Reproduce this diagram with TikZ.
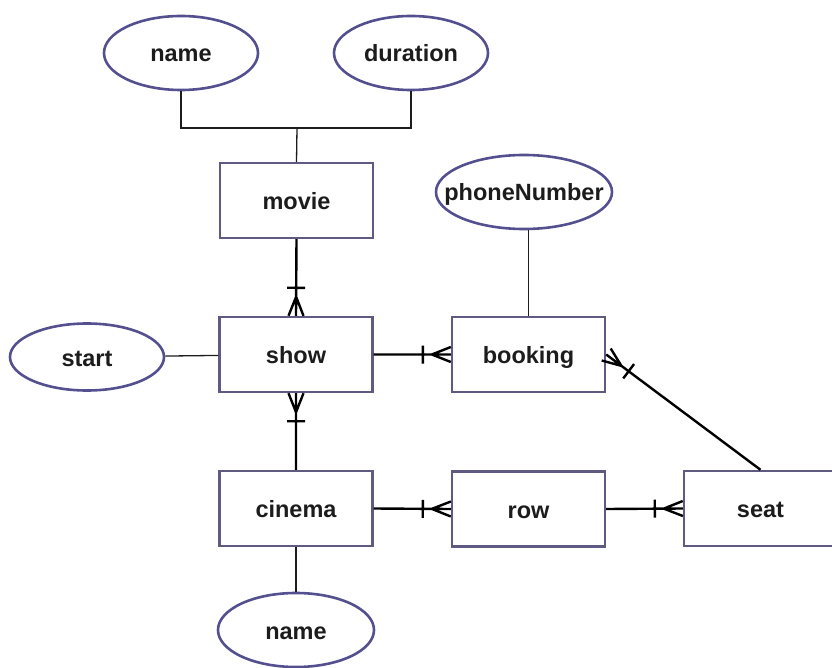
\documentclass[tikz,border=0pt]{standalone}
\usepackage{fontspec}
\setmainfont{Liberation Sans}
\usetikzlibrary{shapes.geometric,calc}
\definecolor{boxline}{HTML}{5E5A82}
\definecolor{ovalline}{HTML}{54508F}
\definecolor{txt}{HTML}{1C1C1C}

\begin{document}
\begin{tikzpicture}[x=1pt,y=-1pt,
  font=\fontsize{23.5}{28}\selectfont\bfseries,
  every node/.style={text height=18pt,text depth=0pt},
  entity/.style={rectangle,draw=boxline,line width=2.4pt,minimum width=153pt,minimum height=75pt,inner sep=0pt,text=txt},
  attrib/.style={ellipse,draw=ovalline,line width=2.6pt,minimum width=#1,minimum height=74pt,inner sep=0pt,text=txt},
  attrib/.default=154pt,
  link/.style={line width=1.3pt,draw=txt},
  onemany/.style={line width=2.4pt,draw=black,to path={-- (\tikztotarget)
    ($(\tikztotarget)!19pt!(\tikztostart)$) -- ($(\tikztotarget)!7.5pt!90:(\tikztostart)$)
    ($(\tikztotarget)!19pt!(\tikztostart)$) -- ($(\tikztotarget)!7.5pt!-90:(\tikztostart)$)
    ($(\tikztotarget)!28pt!(\tikztostart)!9pt!90:(\tikztostart)$) -- ($(\tikztotarget)!28pt!(\tikztostart)!9pt!-90:(\tikztostart)$)}}]
\useasboundingbox (0,0) rectangle (832,668);

\path (296.5,200.5) node[entity] (movie){movie};
\path (296,354.5) node[entity] (show){show};
\path (528.5,354.5) node[entity] (booking){booking};
\path (296,508.5) node[entity] (cinema){cinema};
\path (528.5,509) node[entity] (row){row};
\path (760.5,508.5) node[entity] (seat){seat};

\path (181,53) node[attrib] (mname){name};
\path (411,53) node[attrib] (duration){duration};
\path (524,192) node[attrib=176pt,inner xsep=-20pt] (phone){phoneNumber};
\path (87,357) node[attrib,minimum height=67pt] (start){start};
\path (296,630) node[attrib=156pt] (cname){name};

\coordinate (join) at (297,128);
\draw[link] (mname.south) |- (join) -| (duration.south);
\draw[link] (join) -- (movie.north);
\draw[link] (booking.north) -- (booking.north |- phone.south);
\draw[link] (start) -- (show);
\draw[link] (cinema) -- (cname);

\draw[onemany] (movie.south) to (show.north);
\draw[onemany] (cinema.north) to (show.south);
\draw[onemany] (show.east) to (booking.west);
\draw[onemany] (cinema.east) to (row.west);
\draw[onemany] (row.east) to (seat.west);
\draw[onemany] (seat.north) to (booking.east);
\end{tikzpicture}
\end{document}
